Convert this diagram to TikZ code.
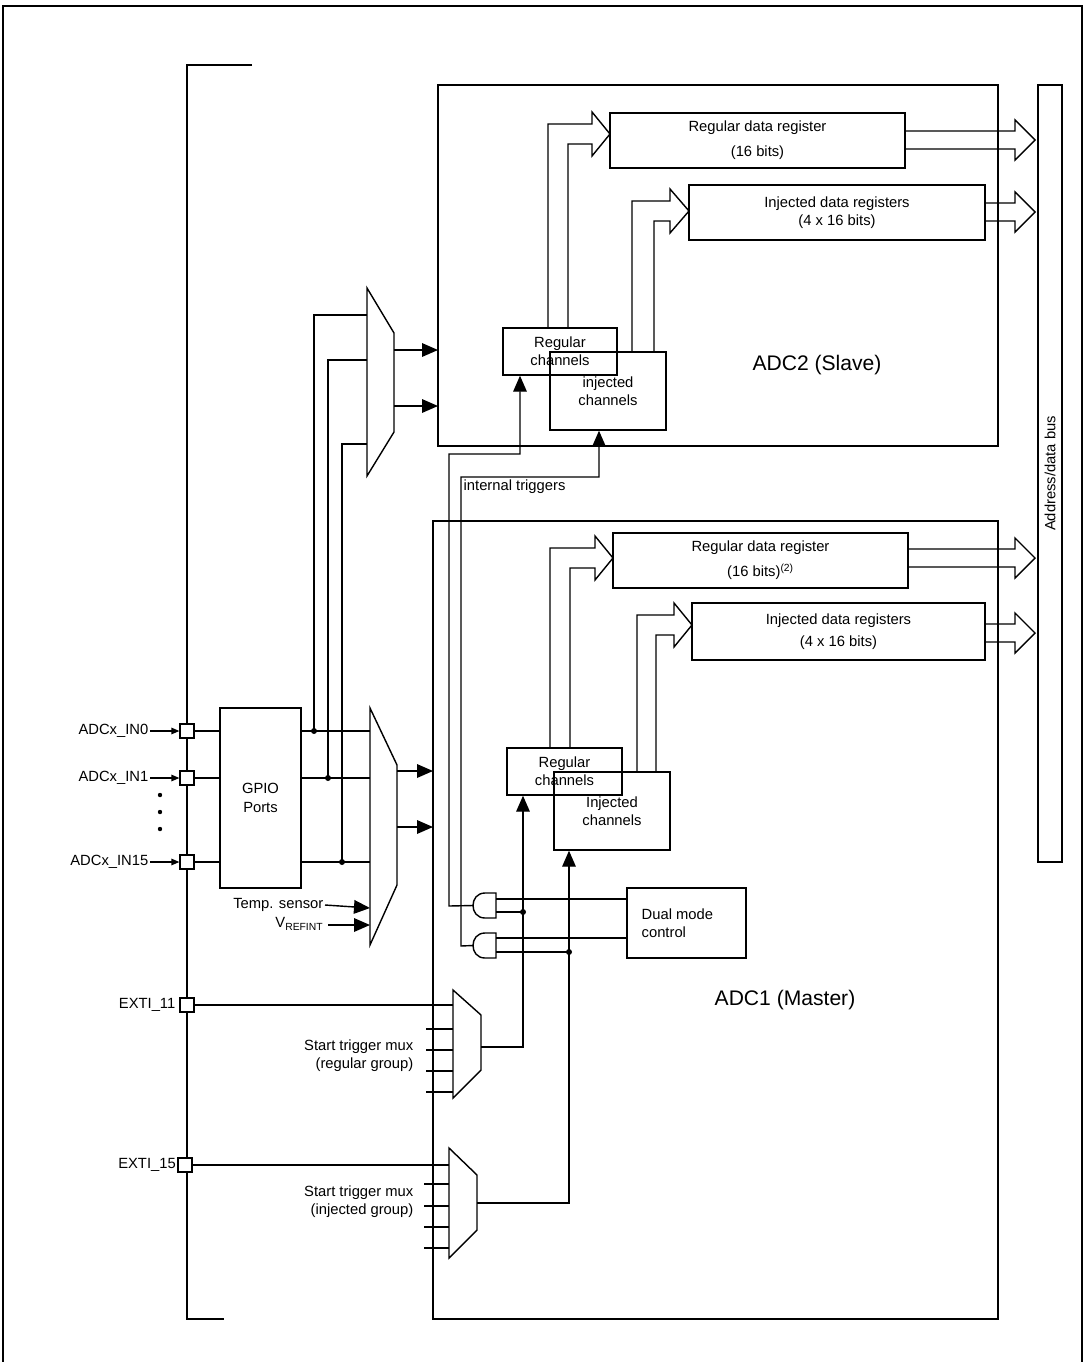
\documentclass[tikz,border=0pt]{standalone}
\usepackage{fontspec}
\setmainfont{Liberation Sans}
\usetikzlibrary{arrows.meta, positioning}

\tikzset{
  box/.style={draw, line width=1pt, inner sep=0pt, align=center, font=\fontsize{10.5}{13}\selectfont},
  frame/.style={line width=2pt},
  wire/.style={line width=1pt},
  pinbox/.style={draw, fill=white, line width=0.8pt, minimum size=0.35cm, inner sep=0pt},
  bigtip/.style={-{Triangle[length=0.4cm, width=0.34cm]}},
  smalltip/.style={-{Triangle[length=0.2cm, width=0.16cm]}},
  lbl/.style={font=\fontsize{10.5}{13}\selectfont, inner sep=1pt},
  dot/.style={circle, fill, inner sep=0pt, minimum size=0.15cm}
}
% block from two corners (in pixels)
\newcommand\blk[6]{\node[box, minimum width={(#4-#2)*0.025cm}, minimum height={(#5-#3)*0.025cm}] (#1) at ({(#2+#4)/2},{(#3+#5)/2}) {#6};}
% open arrow made of two lines, going up then right
\newcommand\hollowup[6]{\draw[wire] (#1,#3) -- (#1,#4-10) -- (#5,#4-10) -- (#5,#4-22) -- (#6,#4) -- (#5,#4+22) -- (#5,#4+10) -- (#2,#4+10) -- (#2,#3);}
% open arrow to the right
\newcommand\hollowright[4]{\draw[wire] (#1,#2-9) -- (#3,#2-9) -- (#3,#2-20) -- (#4,#2) -- (#3,#2+20) -- (#3,#2+9) -- (#1,#2+9);}
% AND gate pointing left
\newcommand\andgate[2]{\draw[wire, fill=white] (496,#2) -- (485,#2) .. controls (469,#2) and (469,#2+25) .. (485,#2+25) -- (496,#2+25) -- cycle;
  \coordinate (#1) at (473,#2+12.5);}

\begin{document}
\begin{tikzpicture}[x=0.025cm, y=-0.025cm, >=Stealth]
\useasboundingbox (0,0) rectangle (1085,1362);

% outer frame and pin bracket
\draw[line width=1.5pt] (3,1362) -- (3,6) -- (1082,6) -- (1082,1362);
\draw[frame] (252,65) -- (187,65) -- (187,1319) -- (224,1319);

% the two converters and the bus
\draw[frame] (438,85) rectangle (998,446);
\draw[frame] (433,521) rectangle (998,1319);
\blk{bus}{1038}{85}{1062}{862}{}
\node[lbl, rotate=90] at (bus) {Address/data bus};
\node[font=\fontsize{15}{18}\selectfont] at (817,365) {ADC2 (Slave)};
\node[font=\fontsize{15}{18}\selectfont] at (785,1000) {ADC1 (Master)};

% ADC2 contents
\blk{rdr2}{610}{113}{905}{168}{Regular data register\\[5pt](16 bits)}
\blk{idr2}{689}{185}{985}{240}{Injected data registers\\(4 x 16 bits)}
\blk{rch2}{503}{328}{617}{375}{Regular\\channels}
\blk{ich2}{550}{352}{666}{430}{injected\\channels}
\hollowup{548}{568}{328}{134}{592}{610}
\hollowup{632}{654}{352}{211}{670}{689}
\hollowright{905}{140}{1015}{1035}
\hollowright{985}{212}{1015}{1035}

% ADC1 contents
\blk{rdr1}{613}{533}{908}{588}{Regular data register\\[5pt](16 bits)\textsuperscript{(2)}}
\blk{idr1}{692}{603}{985}{660}{Injected data registers\\[3pt](4 x 16 bits)}
\blk{rch1}{507}{748}{622}{795}{Regular\\channels}
\blk{ich1}{554}{772}{670}{850}{Injected\\channels}
\hollowup{550}{570}{748}{558}{595}{613}
\hollowup{637}{656}{772}{625}{674}{692}
\hollowright{908}{558}{1015}{1035}
\hollowright{985}{633}{1015}{1035}

% GPIO and analog inputs
\blk{gpio}{220}{708}{301}{888}{GPIO\\Ports}
\foreach \y/\t [count=\i] in {731/ADCx\_IN0, 778/ADCx\_IN1, 862/ADCx\_IN15}{
  \node[pinbox] (pin\i) at (187,\y) {};
  \node[lbl, anchor=east] (pl\i) at (150,\y) {\t};
  \draw[wire, smalltip] (pl\i.east) -- (pin\i.west);
  \draw[wire] (pin\i.east) -- (pin\i -| gpio.west);
}
\foreach \y in {795,812,829}{\fill (160,\y) circle (2.2);}

% input multiplexers
\draw[wire] (367,288) -- (394,333) -- (394,432) -- (367,476) -- cycle;
\draw[wire] (370,708) -- (397,765) -- (397,885) -- (370,945) -- cycle;
\coordinate (m2a) at (394,350); \coordinate (m2b) at (394,406);
\coordinate (m1a) at (397,771); \coordinate (m1b) at (397,827);
\draw[wire, bigtip] (m2a) -- (438,350);
\draw[wire, bigtip] (m2b) -- (438,406);
\draw[wire, bigtip] (m1a) -- (433,771);
\draw[wire, bigtip] (m1b) -- (433,827);
\foreach \y/\x/\i in {731/314/1, 778/328/2, 862/342/3}{
  \draw[wire] (gpio.east |- pin\i) -- (370,\y);
  \node[dot] at (\x,\y) {};
}
\draw[wire] (314,731) -- (314,315) -- (367,315);
\draw[wire] (328,778) -- (328,360) -- (367,360);
\draw[wire] (342,862) -- (342,444) -- (367,444);
\node[lbl, anchor=east] (temp) at (325,905) {Temp. sensor};
\node[lbl, anchor=east] (vref) at (325,924) {V\textsubscript{REFINT}};
\draw[wire, bigtip] (temp.east) -- (370,908);
\draw[wire, bigtip] (328,925) -- (370,925);

% dual mode control and gates
\blk{dual}{627}{888}{746}{958}{}
\node[lbl, align=left, anchor=west] at (640,923) {Dual mode\\control};
\andgate{g1}{893}
\andgate{g2}{933}
\draw[wire] (dual.west |- 0,899) -- (496,899);
\draw[wire] (dual.west |- 0,938) -- (496,938);
\draw[wire] (523,912) -- (496,912);
\draw[wire] (569,952) -- (496,952);
\node[dot] at (523,912) {};
\node[dot] at (569,952) {};
\draw[wire, bigtip] (g1) -- (449,906) -- (449,454) -- (520,454) -- (rch2.south -| 520,0);
\draw[wire, bigtip] (g2) -- (461,946) -- (461,477) -- (599,477) -- (ich2.south -| 599,0);
\node[lbl, anchor=west] at (462,487) {internal triggers};

% start trigger multiplexers
\draw[wire] (453,990) -- (481,1015) -- (481,1070) -- (453,1098) -- cycle;
\draw[wire] (449,1148) -- (477,1175) -- (477,1230) -- (449,1258) -- cycle;
\node[pinbox] (exti11) at (187,1005) {};
\node[pinbox] (exti15) at (185,1165) {};
\node[lbl, anchor=east] at (exti11.west) {EXTI\_11\,};
\node[lbl, anchor=east] at (exti15.west) {EXTI\_15};
\draw[wire] (exti11.east) -- (453,1005);
\draw[wire] (exti15.east) -- (449,1165);
\foreach \y in {1029,1050,1071,1092}{\draw[wire] (426,\y) -- (453,\y);}
\foreach \y in {1184,1206,1227,1248}{\draw[wire] (424,\y) -- (449,\y);}
\node[lbl, align=right, anchor=east] at (415,1056) {Start trigger mux\\(regular group)};
\node[lbl, align=right, anchor=east] at (415,1202) {Start trigger mux\\(injected group)};
\draw[wire, bigtip] (481,1047) -- (523,1047) -- (rch1.south -| 523,0);
\draw[wire, bigtip] (477,1203) -- (569,1203) -- (ich1.south -| 569,0);

\end{tikzpicture}
\end{document}
